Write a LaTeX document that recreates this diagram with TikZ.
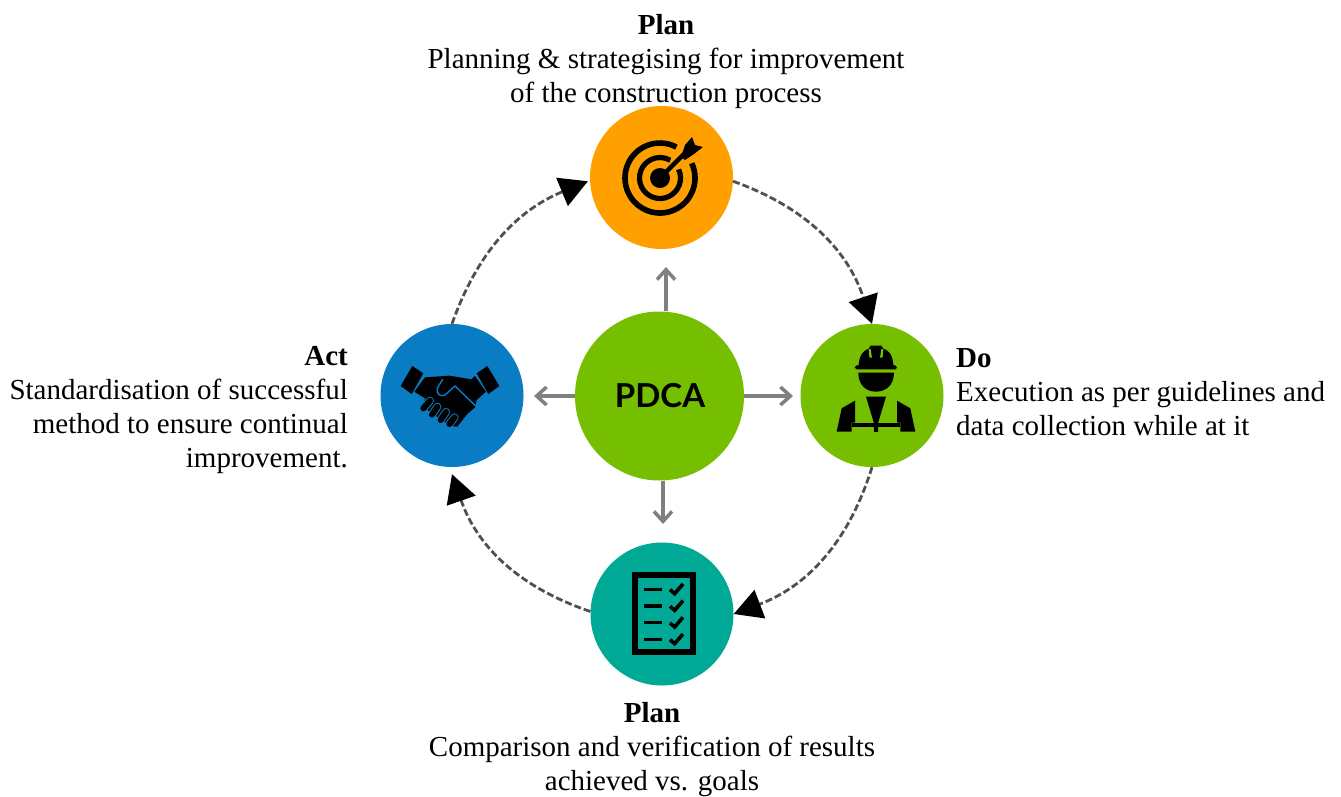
\documentclass[tikz,border=0pt]{standalone}
\usepackage{fontspec}
\setmainfont{Liberation Serif}
\newfontfamily\pdcafont{Lato}
\usetikzlibrary{arrows.meta}
\definecolor{cOrange}{HTML}{FFA000}
\definecolor{cGreen}{HTML}{76BE00}
\definecolor{cBlue}{HTML}{0A7CC4}
\definecolor{cTeal}{HTML}{00A896}
\definecolor{cDash}{HTML}{505050}
\definecolor{cGray}{HTML}{808080}
\tikzset{
 disc/.style={circle,inner sep=0pt,minimum size=143pt,fill=#1},
 cyc/.style={draw=cDash,line width=2.8pt,dash pattern=on 7pt off 3pt,-{Triangle[length=28pt,width=30pt,fill=black,color=black]},shorten >=0pt},
 spoke/.style={draw=cGray,line width=3.5pt,-{Straight Barb[length=10pt,width=18pt,line width=3.5pt]}},
 lab/.style={font=\fontsize{29}{34}\selectfont,inner sep=0pt,text=black},
}
\begin{document}
\begin{tikzpicture}[x=1pt,y=-1pt]
\useasboundingbox (0,0) rectangle (1341,796);
\fill[white] (0,0) rectangle (1341,796);
\node[disc=cOrange] (plan) at (661.5,177.5) {};
\node[disc=cGreen] (do) at (872,395.5) {};
\node[disc=cBlue] (act) at (452,395.5) {};
\node[disc=cTeal] (check) at (662,614) {};
\node[disc=cGreen,minimum size=169pt] (core) at (659.5,396) {};
\node[font=\pdcafont\bfseries\fontsize{33}{33}\selectfont,text=black] (coretxt) at (660,396) {PDCA};
% cycle
\draw[cyc] (plan.-3) to[bend left=26] (do.90);
\draw[cyc] (do.-90) to[bend left=26] (check.0);
\draw[cyc] (check.178) to[bend left=26] ([yshift=-7pt]act.-90);
\draw[cyc] (act.90) to[bend left=24] ([xshift=-2pt]plan.183);
% spokes
\coordinate (sT) at (666,267); \coordinate (sB) at (663,524);
\coordinate (sR) at (793,396); \coordinate (sL) at (534,396);
\draw[spoke] (sT |- core.90) -- (sT);
\draw[spoke] (sB |- core.-90) -- (sB);
\draw[spoke] (core.0) -- (sR);
\draw[spoke] (core.180) -- (sL);
% labels
\node[lab,align=center,anchor=north] (t1) at (666,14) {\textbf{Plan}\\Planning \& strategising for improvement\\of the construction process};
\node[lab,align=center,anchor=north] (t3) at (652,702) {\textbf{Plan}\\Comparison and verification of results\\achieved vs. goals};
\node[lab,align=left,anchor=north west] (t2) at (956,348) {\textbf{Do}\\Execution as per guidelines and\\data collection while at it};
\node[lab,align=right,anchor=north east] (t4) at (348,346) {\textbf{Act}\\Standardisation of successful\\method to ensure continual\\improvement.};
% target icon
\begin{scope}[shift={(660,178)}]
 \draw[line width=5.6pt] (-25:35) arc[start angle=-25,end angle=298,radius=35];
 \draw[line width=5.2pt] (-25:20.5) arc[start angle=-25,end angle=300,radius=20.5];
 \fill (0,0) circle (10);
 \draw[line width=4.5pt] (0,0) -- (25,-25);
 \fill (21,-21) -- (25,-33) -- (32,-41) -- (35,-33) -- (43,-31) -- (34,-24) -- (25,-18) -- cycle;
\end{scope}
% worker icon (zoom coordinates /3)
\begin{scope}[shift={(800,280)},x=0.3333pt,y=-0.3333pt]
 \fill (176,255) .. controls (178,225) and (190,212) .. (207,205) -- (212,197) -- (244,197) -- (249,205) .. controls (268,212) and (278,225) .. (280,255) -- (287,257) .. controls (292,260) and (292,266) .. (287,268) -- (170,268) .. controls (163,266) and (163,260) .. (168,257) -- cycle;
 \fill[cGreen] (206,207) -- (212,207) -- (216,233) -- (208,232) -- cycle;
 \fill[cGreen] (250,207) -- (244,207) -- (240,233) -- (248,232) -- cycle;
 \fill (175,278) -- (282,278) .. controls (282,315) and (258,335) .. (228,335) .. controls (198,335) and (175,315) .. (175,278) -- cycle;
 \fill (110,455) -- (125,385) -- (165,362) -- (165,428) -- (155,428) -- (155,455) -- cycle;
 \fill (346,455) -- (331,385) -- (291,362) -- (291,428) -- (301,428) -- (301,455) -- cycle;
 \fill (155,429) rectangle (301,441);
 \fill (198,350) -- (258,350) -- (234,430) -- (234,456) -- (222,456) -- (222,430) -- cycle;
\end{scope}
% handshake icon
\begin{scope}[shift={(380,320)},x=0.3333pt,y=-0.3333pt]
 \fill (97,138) -- (130,160) -- (95,222) -- (62,198) -- cycle;
 \fill (322,138) -- (290,160) -- (325,222) -- (358,198) -- cycle;
 \fill (135,172) -- (208,167) -- (275,178) -- (285,168) -- (318,215) -- (290,240) -- (285,262) -- (262,282) -- (245,303) -- (232,320) -- (212,318) -- (130,262) -- (135,235) -- (103,215) -- cycle;
 \draw[cBlue,line width=1.4pt,line join=round,line cap=round] (188,178) -- (172,205) .. controls (168,222) and (182,232) .. (195,225) -- (225,198) -- (287,258);
 \foreach \a/\b/\c/\d in {130/265/150/242,156/284/172/260,182/300/198/276,208/312/224/292}{
  \draw[cBlue,line width=8pt,line cap=round] (\a,\b) -- (\c,\d);
  \draw[black,line width=6pt,line cap=round] (\a,\b) -- (\c,\d);
 }
\end{scope}
% checklist icon
\begin{scope}[shift={(590,540)},x=0.3333pt,y=-0.3333pt]
 \draw[line width=6pt] (135,105) rectangle (309,337);
 \foreach \y in {148,198,248,298}{
  \draw[line width=3.6pt] (163,\y) -- (216,\y);
  \draw[line width=3.6pt] (240,\y+1) -- (254,\y+13) -- (279,\y-16);
 }
\end{scope}
\end{tikzpicture}
\end{document}
